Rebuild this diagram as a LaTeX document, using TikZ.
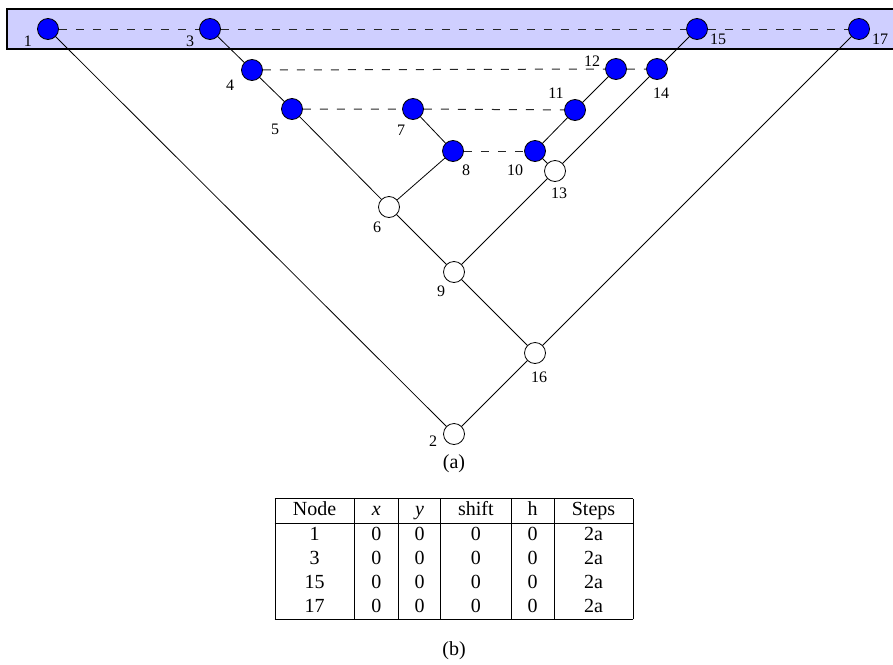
\documentclass[tikz,border=0pt]{standalone}
\usepackage{fontspec}
\setmainfont{Liberation Serif}
\usepackage{array}
\newcolumntype{C}[1]{>{\centering\arraybackslash}p{#1}}

\begin{document}
\begin{tikzpicture}[x=0.5pt, y=-0.5pt]
  \tikzset{
    vol/.style={circle, draw=black, fill=blue, minimum size=10.5pt, inner sep=0pt},
    leeg/.style={circle, draw=black, fill=white, minimum size=10.5pt, inner sep=0pt},
    lbl/.style={font=\footnotesize, inner sep=0pt},
    help/.style={dash pattern=on 4pt off 4.5pt, line width=0.5pt, black!85},
    band/.style={draw=black, line width=1.4pt, fill=blue!19}
  }
  \useasboundingbox (0,0) rectangle (893,664);

  % Band bovenaan
  \draw[band] (7,9) rectangle (910,49);

  % Knopen: naam/x/y/stijl/label dx/label dy
  \foreach \n/\x/\y/\s/\dx/\dy in {
      1/48/29/vol/-20/12, 3/210/29/vol/-20/12, 15/697/29/vol/21/10, 17/859/29/vol/21/10,
      4/252/70/vol/-22/15, 12/616/69/vol/-24/-8, 14/657/69/vol/4/24,
      5/292/109/vol/-17/20, 7/413/109/vol/-12/21, 11/575/110/vol/-19/-17,
      8/453/151/vol/13/19, 10/535/151/vol/-20/19, 13/555/171/leeg/4/22,
      6/389/207/leeg/-12/20, 9/454/272/leeg/-13/19, 16/535/353/leeg/4/24,
      2/454/434/leeg/-21/7}{
    \node[\s] (n\n) at (\x,\y) {};
    \node[lbl] (l\n) at ([shift={(\dx,\dy)}]n\n) {\n};
  }

  % Takken
  \draw (n1) -- (n2) -- (n16) -- (n17);
  \draw (n3) -- (n4) -- (n5) -- (n6) -- (n9) -- (n16);
  \draw (n7) -- (n8) -- (n6);
  \draw (n9) -- (n13) -- (n14) -- (n15);
  \draw (n13) -- (n10) -- (n11) -- (n12);

  % Stippellijnen per niveau
  \draw[help] (n1) -- (n3) -- (n15) -- (n17);
  \draw[help] (n4) -- (n12) -- (n14);
  \draw[help] (n5) -- (n7) -- (n11);
  \draw[help] (n8) -- (n10);

  % Onderschriften en tabel
  \node (capa) at (454,464) {(a)};
  \node[inner sep=0pt] (tab) at (454,559) {%
    \begin{tabular}{|C{27pt}|C{10pt}|C{8.5pt}|C{23pt}|C{9pt}|C{27pt}|}
      \hline
      Node & \textit{x} & \textit{y} & shift & h & Steps\\ \hline
      1  & 0 & 0 & 0 & 0 & 2a\\
      3  & 0 & 0 & 0 & 0 & 2a\\
      15 & 0 & 0 & 0 & 0 & 2a\\
      17 & 0 & 0 & 0 & 0 & 2a\\ \hline
    \end{tabular}};
  \node (capb) at (454,651) {(b)};
\end{tikzpicture}
\end{document}
